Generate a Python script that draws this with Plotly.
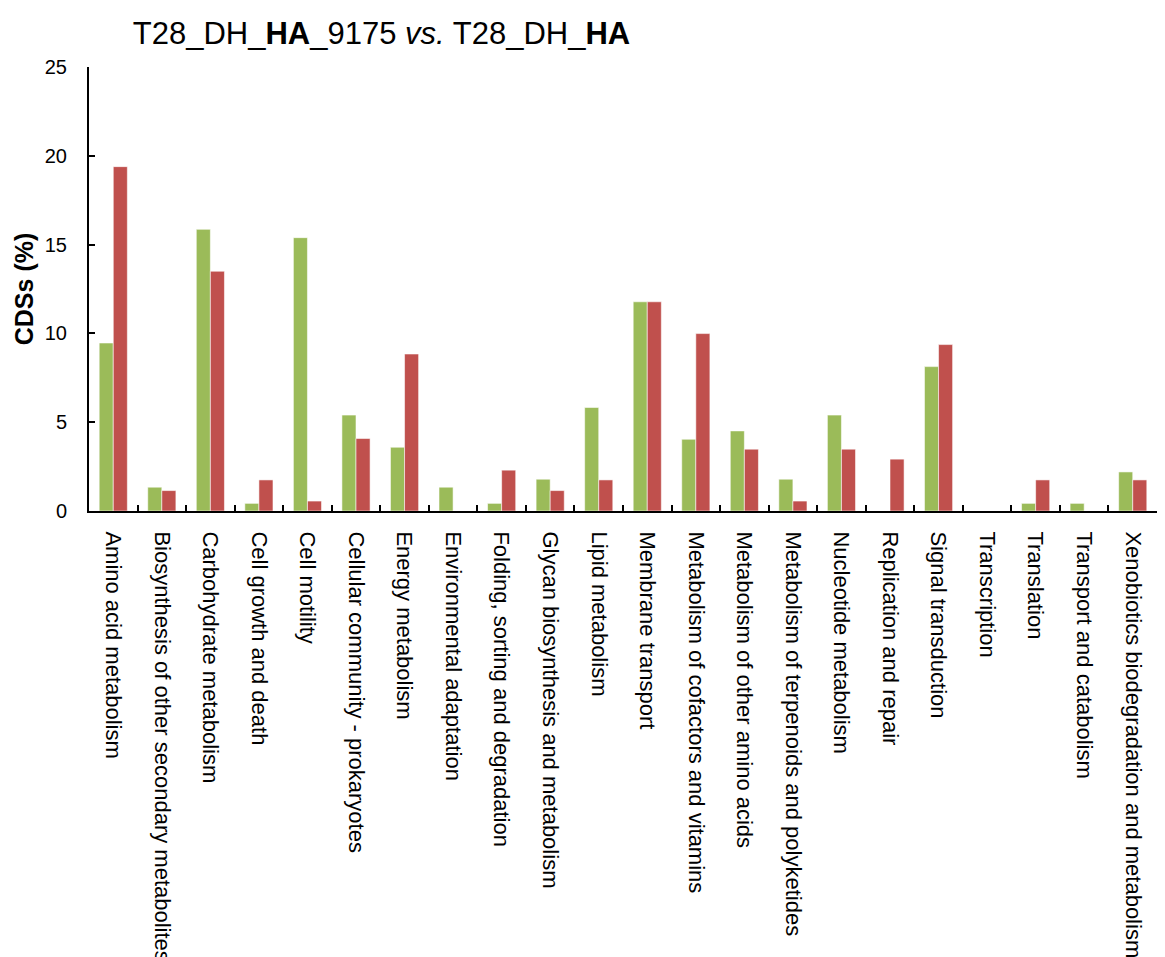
import plotly.graph_objects as go

categories = [
    "Amino acid metabolism",
    "Biosynthesis of other secondary metabolites",
    "Carbohydrate metabolism",
    "Cell growth and death",
    "Cell motility",
    "Cellular community - prokaryotes",
    "Energy metabolism",
    "Environmental adaptation",
    "Folding, sorting and degradation",
    "Glycan biosynthesis and metabolism",
    "Lipid metabolism",
    "Membrane transport",
    "Metabolism of cofactors and vitamins",
    "Metabolism of other amino acids",
    "Metabolism of terpenoids and polyketides",
    "Nucleotide metabolism",
    "Replication and repair",
    "Signal transduction",
    "Transcription",
    "Translation",
    "Transport and catabolism",
    "Xenobiotics biodegradation and metabolism",
]

green_values = [9.46, 1.34, 15.86, 0.43, 15.39, 5.40, 3.59, 1.34, 0.43, 1.79, 5.83,
                11.78, 4.04, 4.51, 1.79, 5.40, 0.0, 8.13, 0.0, 0.43, 0.43, 2.20]
red_values = [19.39, 1.15, 13.50, 1.75, 0.56, 4.08, 8.84, 0.0, 2.30, 1.15, 1.75,
              11.78, 9.99, 3.48, 0.56, 3.48, 2.92, 9.37, 0.0, 1.75, 0.0, 1.75]

y_ticks = [0, 5, 10, 15, 20, 25]

FONT = "Liberation Sans, Arial, Helvetica, sans-serif"

fig = go.Figure()
fig.add_trace(go.Bar(
    x=categories, y=green_values, name="T28_DH_HA_9175",
    marker=dict(color="#9BBB59", line=dict(color="rgba(255,255,255,0.7)", width=0.8)),
))
fig.add_trace(go.Bar(
    x=categories, y=red_values, name="T28_DH_HA",
    marker=dict(color="#C0504D", line=dict(color="rgba(255,255,255,0.7)", width=0.8)),
))

H = 949
fig.update_layout(
    width=1157, height=H,
    margin=dict(l=81, r=8, t=59, b=446, autoexpand=False),
    paper_bgcolor="white", plot_bgcolor="white",
    barmode="group", bargap=0.42, bargroupgap=0,
    showlegend=False,
    font=dict(family=FONT, color="black"),
    title=dict(
        text="T28_DH_<b>HA</b>_9175 <i>vs.</i> T28_DH_<b>HA</b>",
        font=dict(size=31, family=FONT, color="black"),
        xref="paper", x=0.041, xanchor="left",
        yref="container", y=1 - 25 / H, yanchor="middle",
    ),
    xaxis=dict(
        type="category", automargin=False,
        showline=True, linecolor="black", linewidth=2,
        ticks="inside", tickson="boundaries", ticklen=6, tickwidth=2, tickcolor="black",
        tickangle=90, tickfont=dict(size=22, family=FONT, color="black"),
        ticklabelstandoff=14,
        showgrid=False, zeroline=False,
    ),
    yaxis=dict(
        range=[0, 25], tickvals=y_ticks, automargin=False,
        showline=True, linecolor="black", linewidth=2,
        ticks="inside", ticklen=6, tickwidth=2, tickcolor="black",
        tickfont=dict(size=20, family=FONT, color="black"),
        ticklabelstandoff=16,
        showgrid=False, zeroline=False,
        title=dict(text="<b>CDSs (%)</b>", font=dict(size=25, family=FONT, color="black"), standoff=4),
    ),
)

fig.write_html("out.html")
